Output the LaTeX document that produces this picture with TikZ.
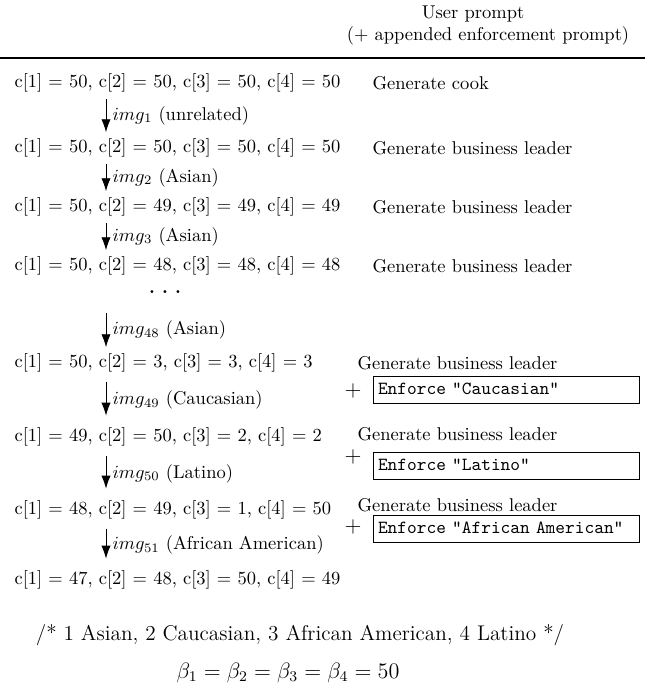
\documentclass[tikz,border=0pt]{standalone}
\usetikzlibrary{arrows.meta}
\begin{document}
\begin{tikzpicture}[
    x=0.5405pt, y=-0.5405pt,
    >={Latex[length=7pt,width=5pt]},
    row/.style={anchor=west},
    gen/.style={anchor=west},
    enf/.style={
        draw,
        anchor=west,
        font=\ttfamily,
        text width=139pt,
        align=left,
        inner xsep=2.5pt,
        inner ysep=2.8pt,
        text height=7pt,
        text depth=2pt
    },
    arr/.style={->, line width=0.5pt},
    arrs/.style={arr, shorten <=1.5pt, shorten >=3pt},
    lbl/.style={midway, right},
    note/.style={font=\fontsize{11.5}{14}\selectfont}
]
    \useasboundingbox (0,0) rectangle (654,688);

    % header
    \node (hdr1) at (473,14) {User prompt};
    \node (hdr2) at (488,36) {(+ appended enforcement prompt)};
    \coordinate (ruleL) at (0,58);
    \coordinate (ruleR) at (645,58);
    \draw[line width=0.7pt] (ruleL) -- (ruleR);

    \coordinate (axis) at (106,0);

    % counters
    \node[row] (r1) at (8,83) {c[1] = 50, c[2] = 50, c[3] = 50, c[4] = 50};
    \node[row] (r2) at (8,148) {c[1] = 50, c[2] = 50, c[3] = 50, c[4] = 50};
    \node[row] (r3) at (8,207) {c[1] = 50, c[2] = 49, c[3] = 49, c[4] = 49};
    \node[row] (r4) at (8,266) {c[1] = 50, c[2] = 48, c[3] = 48, c[4] = 48};
    \node[anchor=base] (dots) at (165,294) {\textbf{.~.~.}};
    \coordinate (a48) at (106,313);
    \node[row] (r5) at (8,363) {c[1] = 50, c[2] = 3, c[3] = 3, c[4] = 3};
    \node[row] (r6) at (8,437) {c[1] = 49, c[2] = 50, c[3] = 2, c[4] = 2};
    \node[row] (r7) at (8,510) {c[1] = 48, c[2] = 49, c[3] = 1, c[4] = 50};
    \node[row] (r8) at (8,580) {c[1] = 47, c[2] = 48, c[3] = 50, c[4] = 49};

    % prompts
    \node[gen] (g1) at (366,83) {Generate cook};
    \node[gen] (g2) at (366,148) {Generate business leader};
    \node[gen] (g3) at (366,207) {Generate business leader};
    \node[gen] (g4) at (366,266) {Generate business leader};
    \node[gen] (g5) at (351,363) {Generate business leader};
    \node[gen] (g6) at (351,434) {Generate business leader};
    \node[gen] (g7) at (351,505) {Generate business leader};

    \node[font=\large] (p5) at (353,391) {$+$};
    \node[font=\large] (p6) at (353,457) {$+$};
    \node[font=\large] (p7) at (353,527) {$+$};
    \node[enf] (e5) at (373,390) {Enforce "Caucasian"};
    \node[enf] (e6) at (373,466) {Enforce "Latino"};
    \node[enf] (e7) at (373,529) {Enforce "African American"};

    % generated images
    \draw[arr] (r1.south -| axis) -- (r2.north -| axis)
        node[lbl] {$img_{1}$ (unrelated)};
    \draw[arr] (r2.south -| axis) -- (r3.north -| axis)
        node[lbl] {$img_{2}$ (Asian)};
    \draw[arr] (r3.south -| axis) -- (r4.north -| axis)
        node[lbl] {$img_{3}$ (Asian)};
    \draw[arr] (a48) -- (r5.north -| axis)
        node[lbl] {$img_{48}$ (Asian)};
    \draw[arrs] (r5.south -| axis) -- (r6.north -| axis)
        node[lbl] {$img_{49}$ (Caucasian)};
    \draw[arrs] (r6.south -| axis) -- (r7.north -| axis)
        node[lbl] {$img_{50}$ (Latino)};
    \draw[arrs] (r7.south -| axis) -- (r8.north -| axis)
        node[lbl] {$img_{51}$ (African American)};

    % legend
    \node[note] (groups) at (300,635)
        {/* 1 Asian, 2 Caucasian, 3 African American, 4 Latino */};
    \node[note] (betas) at (288,673)
        {$\beta_1 = \beta_2 = \beta_3 = \beta_4 = 50$};
\end{tikzpicture}
\end{document}
